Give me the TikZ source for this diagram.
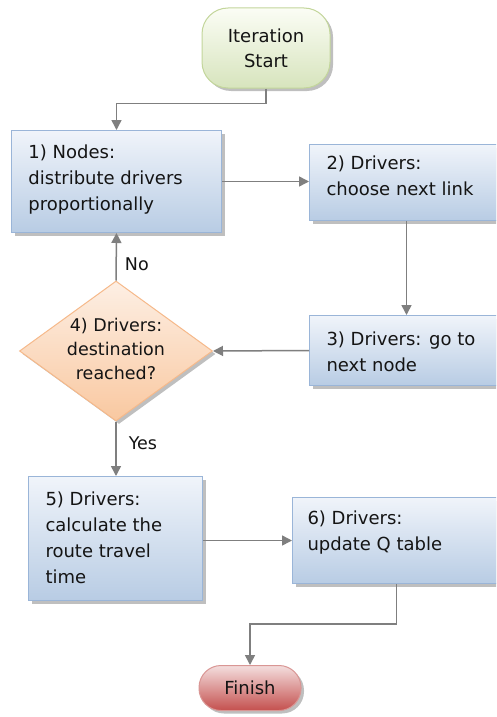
\documentclass[tikz,border=0pt]{standalone}
\usepackage{fontspec}
\setmainfont{DejaVu Sans}
\usetikzlibrary{arrows.meta,shapes.geometric,shadows}
\definecolor{boxtop}{HTML}{F0F4FA}
\definecolor{boxbot}{HTML}{B8CCE4}
\definecolor{boxdraw}{HTML}{9AB5D8}
\definecolor{grtop}{HTML}{FBFDF5}
\definecolor{grbot}{HTML}{D7E4BD}
\definecolor{grdraw}{HTML}{C3D69B}
\definecolor{ortop}{HTML}{FDEFE4}
\definecolor{orbot}{HTML}{F9C8A0}
\definecolor{ordraw}{HTML}{F6B98A}
\definecolor{rdtop}{HTML}{F4DEDE}
\definecolor{rdbot}{HTML}{C4504E}
\definecolor{rddraw}{HTML}{D99694}
\definecolor{arcol}{HTML}{7F7F7F}
\definecolor{txcol}{HTML}{141414}
\newcommand{\btxt}[5]{\parbox[c][#1][t]{#2}{\fontsize{18}{26}\selectfont\raggedright\leftskip=#3\relax\rule{0pt}{#4}#5}}
\tikzset{
  shad/.style={drop shadow={shadow xshift=3pt,shadow yshift=-3pt,fill=black,opacity=0.25}},
  procbox/.style={draw=boxdraw,line width=1pt,top color=boxtop,bottom color=boxbot,shad,inner sep=0pt,anchor=north west,text=txcol},
  termstart/.style={draw=grdraw,line width=1pt,top color=grtop,bottom color=grbot,shad,rounded corners=26pt,minimum width=128pt,minimum height=80pt,inner sep=0pt,align=center,text=txcol,font=\fontsize{18}{25}\selectfont},
  termend/.style={draw=rddraw,line width=1pt,top color=rdtop,bottom color=rdbot,shad,rounded corners=22pt,minimum width=102pt,minimum height=45pt,inner sep=0pt,text=txcol,font=\fontsize{18}{25}\selectfont},
  decide/.style={diamond,draw=ordraw,line width=1pt,top color=ortop,bottom color=orbot,shad,minimum width=193pt,minimum height=140pt,inner sep=0pt,text=txcol},
  conn/.style={draw=arcol,line width=1.5pt,-{Triangle[length=10pt,width=10pt]}},
  lbl/.style={text=txcol,font=\fontsize{17.5}{25}\selectfont,inner sep=0pt}
}
\begin{document}
\begin{tikzpicture}[x=1pt,y=-1pt]
\useasboundingbox (0,0) rectangle (496,717);
\fill[white] (0,0) rectangle (496,717);
\clip (0,0) rectangle (496,717);
\node[termstart] (st) at (266,48) {Iteration\\Start};
\node[procbox] (b1) at (11,130) {\btxt{102pt}{210pt}{17pt}{28pt}{1) Nodes:\\distribute drivers\\proportionally}};
\node[procbox] (b2) at (309,144) {\btxt{76pt}{194pt}{17pt}{25pt}{2) Drivers:\\choose next link}};
\node[procbox] (b3) at (309,315) {\btxt{70pt}{194pt}{17pt}{30pt}{3) Drivers: go to\\next node}};
\node[decide] (d) at (116,351) {\makebox[0pt]{\raisebox{-4.5pt}[0pt][0pt]{\fontsize{17.5}{24}\selectfont\begin{tabular}{c}4) Drivers:\\destination\\reached?\end{tabular}}}};
\node[procbox] (b5) at (28,476) {\btxt{124pt}{174pt}{17pt}{29pt}{5) Drivers:\\calculate the\\route travel\\time}};
\node[procbox] (b6) at (292,497) {\btxt{86pt}{208pt}{15pt}{27pt}{6) Drivers:\\update Q table}};
\node[termend] (fin) at (250,688) {Finish};
\draw[conn] (st.south) -- ++(0,15) -| (b1.north);
\draw[conn] (b1.east) -- (b1.east -| b2.west);
\draw[conn] (b2.south) -- (b3.north);
\draw[conn] (b3.west) -- (d.east);
\draw[conn] (d.north) -- (b1.south) node[lbl,pos=0.35,right=8pt] (no) {No};
\draw[conn] (d.south) -- (d.south |- b5.north) node[lbl,pos=0.4,right=12pt] (yes) {Yes};
\draw[conn] (b5.east |- b6.west) -- (b6.west);
\draw[conn] (b6.south) -- ++(0,40) -| (fin.north);
\end{tikzpicture}
\end{document}
